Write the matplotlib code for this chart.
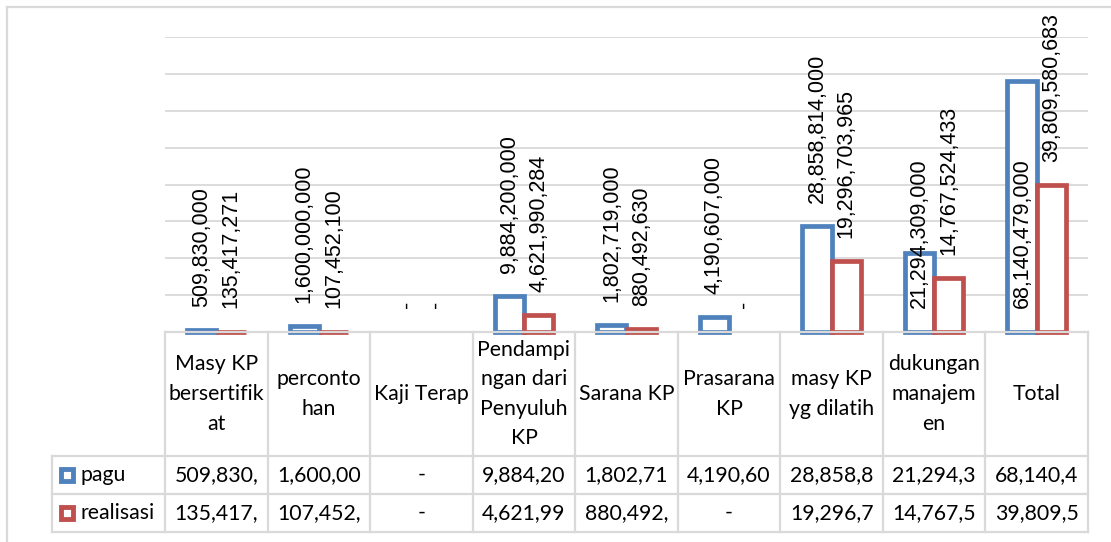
import numpy as np
import matplotlib
matplotlib.use("Agg")
import matplotlib.pyplot as plt
from matplotlib.lines import Line2D

categories = ["Masy KP\nbersertifik\nat", "perconto\nhan", "Kaji Terap",
              "Pendampi\nngan dari\nPenyuluh\nKP", "Sarana KP", "Prasarana\nKP",
              "masy KP\nyg dilatih", "dukungan\nmanajem\nen", "Total"]
pagu = [509830000, 1600000000, 0, 9884200000, 1802719000, 4190607000,
        28858814000, 21294309000, 68140479000]
realisasi = [135417271, 107452100, 0, 4621990284, 880492630, 0,
             19296703965, 14767524433, 39809580683]
series_names = ["pagu", "realisasi"]
# excel pushed these two pagu labels down to the base
pagu_label_at_base = [False, False, False, False, False, False, False, True, True]

BLUE = "#4F81BD"
RED = "#C0504D"
GRID = "#D9D9D9"
W, H = 1111, 542
YMAX = 80e9

# layout in pixels
PLOT_L, PLOT_R, PLOT_T, BASE = 165, 1088, 37, 332
HEAD_H, ROW_H = 124, 38
LEG_L = 52

LABEL_FONT = "Liberation Sans"
TABLE_FONT = "Lato"


def fmt(v):
    return "-" if v == 0 else f"{v:,}"


fig = plt.figure(figsize=(W / 100, H / 100), dpi=100)

# chart area border (runs off the right/bottom of the crop)
fig.add_artist(Line2D([7 / W, 1], [1 - 7 / H, 1 - 7 / H], color=GRID, lw=1.6,
                      transform=fig.transFigure))
fig.add_artist(Line2D([7 / W, 7 / W], [0, 1 - 7 / H], color=GRID, lw=1.6,
                      transform=fig.transFigure))

ax = fig.add_axes([PLOT_L / W, 1 - BASE / H, (PLOT_R - PLOT_L) / W, (BASE - PLOT_T) / H])
x = np.arange(len(categories))
ax.set_xlim(-0.5, len(categories) - 0.5)
ax.set_ylim(0, YMAX)
ax.set_yticks(np.arange(1e10, YMAX + 1, 1e10))
ax.set_xticks([])
ax.tick_params(left=False, labelleft=False)
ax.grid(axis="y", color=GRID, lw=1.3)
ax.set_axisbelow(True)
for s in ax.spines.values():
    s.set_visible(False)

bw = 0.285
off = 0.143
for vals, color, dx in ((pagu, BLUE, -off), (realisasi, RED, off)):
    edges = [color if v > 0 else "none" for v in vals]
    ax.bar(x + dx, vals, width=bw, facecolor="white", edgecolor=edges,
           linewidth=3.4, zorder=3, clip_on=False)

# data labels, rotated, above the bars
ax_h_pt = (BASE - PLOT_T) / 100 * 72
pt_per_unit = ax_h_pt / YMAX
gap_pt = 23 * 0.72
min_pt = 24.5 * 0.72
for vals, dx, at_base in ((pagu, -off, pagu_label_at_base),
                          (realisasi, off, [False] * len(realisasi))):
    for i, v in enumerate(vals):
        yoff = min_pt if at_base[i] else max(v * pt_per_unit + gap_pt, min_pt)
        ax.annotate(fmt(v), xy=(x[i] + dx, 0), xytext=(0, yoff),
                    textcoords="offset points", rotation=90, ha="center",
                    va="bottom", fontsize=15.5, family=LABEL_FONT, zorder=4)

# data table under the chart
tab_h = HEAD_H + 2 * ROW_H
tab = fig.add_axes([PLOT_L / W, 1 - (BASE + tab_h) / H, (PLOT_R - PLOT_L) / W, tab_h / H])
tab.set_xlim(-0.5, len(categories) - 0.5)
tab.set_ylim(tab_h, 0)
tab.axis("off")
col_px = (PLOT_R - PLOT_L) / len(categories)
leg_l = -0.5 - (PLOT_L - LEG_L) / col_px
line_kw = dict(color=GRID, lw=1.6, clip_on=False)

tab.plot([-0.5, len(categories) - 0.5], [0, 0], **line_kw)
for y in (HEAD_H, HEAD_H + ROW_H, tab_h):
    tab.plot([leg_l, len(categories) - 0.5], [y, y], **line_kw)
for k in range(len(categories) + 1):
    tab.plot([k - 0.5, k - 0.5], [0, tab_h], **line_kw)
tab.plot([leg_l, leg_l], [HEAD_H, tab_h], **line_kw)

for i, c in enumerate(categories):
    tab.text(i, HEAD_H / 2, c, ha="center", va="center", fontsize=15.3,
             family=TABLE_FONT, linespacing=1.6)

for r, (name, vals, color) in enumerate(((series_names[0], pagu, BLUE),
                                         (series_names[1], realisasi, RED))):
    yc = HEAD_H + ROW_H * (r + 0.5)
    for i, v in enumerate(vals):
        # excel clips the number to the cell width
        tab.text(i, yc, fmt(v)[:8], ha="center", va="center", fontsize=15.3,
                 family=TABLE_FONT)
    tab.plot([leg_l + 14.5 / col_px], [yc], marker="s", ms=8.5, mew=3.5,
             mfc="white", mec=color, clip_on=False)
    tab.text(leg_l + 28 / col_px, yc, name, ha="left", va="center",
             fontsize=15.3, family=TABLE_FONT)

fig.savefig("out.png", dpi=100)
